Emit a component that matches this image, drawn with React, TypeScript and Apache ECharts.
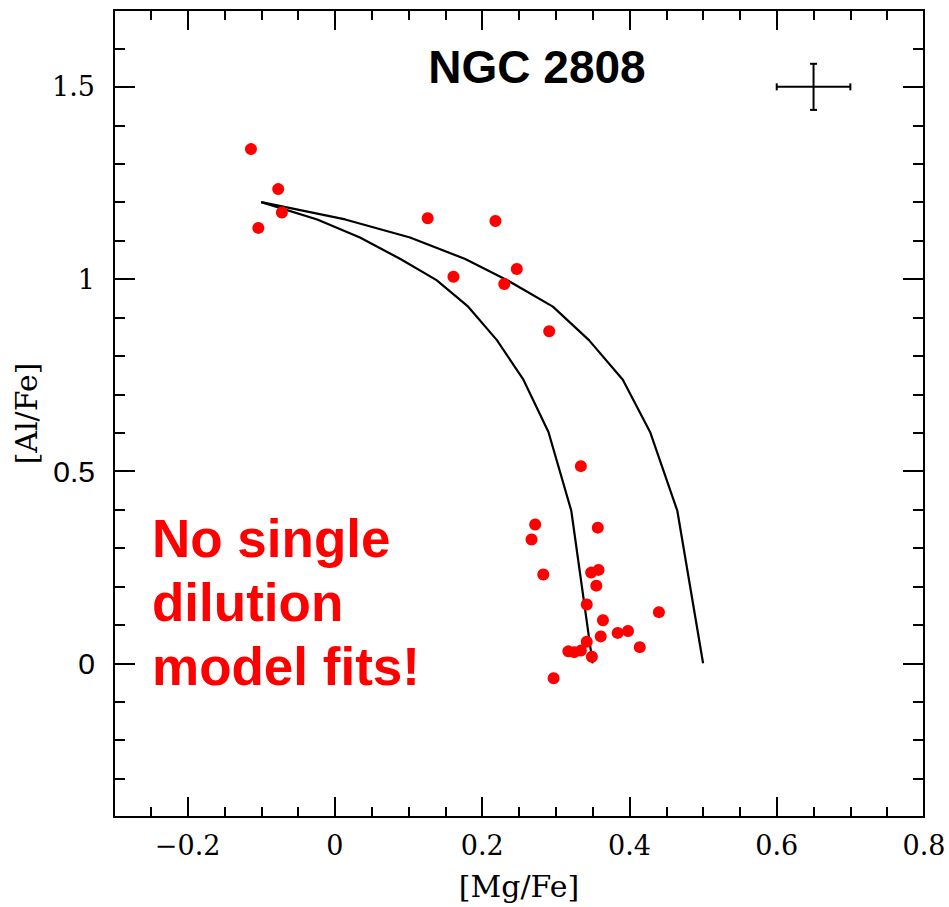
import React, { useEffect, useRef } from 'react';
import * as echarts from 'echarts';

// Axis ticks
const xMajorTicks = [-0.2, 0, 0.2, 0.4, 0.6, 0.8];
const yMajorTicks = [0, 0.5, 1, 1.5];
const ySansLabels = [0, 0.5];

// Dilution models ([Al/Fe] shared, two [Mg/Fe] tracks)
const modelAlFe = [1.2, 1.155, 1.108, 1.052, 0.997, 0.928, 0.841, 0.738, 0.602, 0.397, 0.0];
const modelMgFeInner = [-0.1, -0.024, 0.034, 0.089, 0.138, 0.181, 0.22, 0.256, 0.29, 0.321, 0.35];
const modelMgFeOuter = [-0.1, 0.014, 0.102, 0.177, 0.234, 0.296, 0.345, 0.391, 0.428, 0.465, 0.5];

// Stars in NGC 2808
const starMgFe = [
  -0.114, -0.077, -0.072, -0.104, 0.126, 0.218, 0.161, 0.247, 0.23, 0.291,
  0.334, 0.272, 0.267, 0.357, 0.283, 0.348, 0.358, 0.355, 0.342, 0.364,
  0.44, 0.361, 0.384, 0.398, 0.414, 0.342, 0.334, 0.325, 0.317, 0.349, 0.297,
];
const starAlFe = [
  1.338, 1.234, 1.173, 1.133, 1.158, 1.151, 1.006, 1.026, 0.987, 0.864,
  0.513, 0.361, 0.322, 0.353, 0.231, 0.236, 0.243, 0.202, 0.153, 0.112,
  0.133, 0.07, 0.079, 0.084, 0.042, 0.056, 0.033, 0.029, 0.031, 0.017, -0.039,
];

// Typical error bar: [x, y, xErr, yErr]
const errorBar = [0.65, 1.5, 0.05, 0.06];

const titleText = 'NGC 2808';
const noteLines = ['No single', 'dilution', 'model fits!'];

const SERIF = '"DejaVu Serif", serif';
const SANS = '"Liberation Sans", Arial, sans-serif';

function fmt(v: number): string {
  if (Math.abs(v) < 1e-9) return '0';
  const s = String(+v.toFixed(2));
  return s.replace('-', '\u2212');
}

export default function App() {
  const ref = useRef<HTMLDivElement>(null);
  useEffect(() => {
    if (!ref.current) return;
    const chart = echarts.init(ref.current, undefined, { renderer: 'svg' });
    const gridRect = { left: 114, top: 10, width: 810, height: 807 };
    const lineStyle = { color: '#000', width: 2 };
    const xMin = -0.3, xMax = 0.8, yMin = -0.4, yMax = 1.7;

    const minorX = (pos: string) => ({
      type: 'value', gridIndex: 0, position: pos, min: xMin, max: xMax, interval: 0.05,
      axisLine: { show: true, onZero: false, lineStyle },
      axisTick: { show: true, inside: true, length: 10, lineStyle },
      axisLabel: { show: false }, splitLine: { show: false },
    });
    const minorY = (pos: string) => ({
      type: 'value', gridIndex: 0, position: pos, min: yMin, max: yMax, interval: 0.1,
      axisLine: { show: true, onZero: false, lineStyle },
      axisTick: { show: true, inside: true, length: 11, lineStyle },
      axisLabel: { show: false }, splitLine: { show: false },
    });

    const option: any = {
      animation: false,
      grid: [
        { ...gridRect, containLabel: false },
        { ...gridRect, containLabel: false },
      ],
      xAxis: [
        minorX('bottom'),
        minorX('top'),
        {
          type: 'value', gridIndex: 1, position: 'bottom', min: xMin, max: xMax,
          axisLine: { show: false, onZero: false },
          axisTick: { show: true, inside: true, length: 20, customValues: xMajorTicks, lineStyle },
          axisLabel: {
            show: true, customValues: xMajorTicks, formatter: (v: number) => fmt(v),
            margin: 15, fontFamily: SERIF, fontSize: 27, color: '#000',
          },
          splitLine: { show: false },
          name: '[Mg/Fe]', nameLocation: 'middle', nameGap: 54,
          nameTextStyle: { fontFamily: SERIF, fontSize: 30, color: '#000' },
        },
        {
          type: 'value', gridIndex: 1, position: 'top', min: xMin, max: xMax,
          axisLine: { show: false, onZero: false },
          axisTick: { show: true, inside: true, length: 20, customValues: xMajorTicks, lineStyle },
          axisLabel: { show: false }, splitLine: { show: false },
        },
      ],
      yAxis: [
        minorY('left'),
        minorY('right'),
        {
          type: 'value', gridIndex: 1, position: 'left', min: yMin, max: yMax,
          axisLine: { show: false, onZero: false },
          axisTick: { show: true, inside: true, length: 21, customValues: yMajorTicks, lineStyle },
          axisLabel: {
            show: true, customValues: yMajorTicks, margin: 19, color: '#000',
            formatter: (v: number) => {
              const s = fmt(v);
              return ySansLabels.some((t) => Math.abs(t - v) < 1e-9) ? `{s|${s}}` : `{r|${s}}`;
            },
            rich: {
              s: { fontFamily: SANS, fontSize: 30, color: '#000' },
              r: { fontFamily: SERIF, fontSize: 27, color: '#000' },
            },
          },
          splitLine: { show: false },
          name: '[Al/Fe]', nameLocation: 'middle', nameGap: 70, nameRotate: 90,
          nameTextStyle: { fontFamily: SERIF, fontSize: 30, color: '#000' },
        },
        {
          type: 'value', gridIndex: 1, position: 'right', min: yMin, max: yMax,
          axisLine: { show: false, onZero: false },
          axisTick: { show: true, inside: true, length: 21, customValues: yMajorTicks, lineStyle },
          axisLabel: { show: false }, splitLine: { show: false },
        },
      ],
      series: [
        {
          type: 'line', xAxisIndex: 2, yAxisIndex: 2, showSymbol: false, symbol: 'none',
          data: modelMgFeInner.map((x, i) => [x, modelAlFe[i]]),
          lineStyle: { color: '#000', width: 2.2 }, z: 3,
        },
        {
          type: 'line', xAxisIndex: 2, yAxisIndex: 2, showSymbol: false, symbol: 'none',
          data: modelMgFeOuter.map((x, i) => [x, modelAlFe[i]]),
          lineStyle: { color: '#000', width: 2.2 }, z: 3,
        },
        {
          type: 'scatter', xAxisIndex: 2, yAxisIndex: 2, symbol: 'circle', symbolSize: 12,
          data: starMgFe.map((x, i) => [x, starAlFe[i]]),
          itemStyle: { color: '#ff0000', opacity: 1 }, z: 4,
        },
        {
          type: 'custom', xAxisIndex: 2, yAxisIndex: 2, z: 5,
          data: [errorBar],
          encode: { x: 0, y: 1 },
          renderItem: (params: any, api: any) => {
            const x = api.value(0), y = api.value(1), ex = api.value(2), ey = api.value(3);
            const l = api.coord([x - ex, y]);
            const r = api.coord([x + ex, y]);
            const t = api.coord([x, y + ey]);
            const b = api.coord([x, y - ey]);
            const cap = 3.5;
            const st = { stroke: '#000', lineWidth: 2 };
            return {
              type: 'group',
              children: [
                { type: 'line', shape: { x1: l[0], y1: l[1], x2: r[0], y2: r[1] }, style: st },
                { type: 'line', shape: { x1: t[0], y1: t[1], x2: b[0], y2: b[1] }, style: st },
                { type: 'line', shape: { x1: l[0], y1: l[1] - cap, x2: l[0], y2: l[1] + cap }, style: st },
                { type: 'line', shape: { x1: r[0], y1: r[1] - cap, x2: r[0], y2: r[1] + cap }, style: st },
                { type: 'line', shape: { x1: t[0] - cap, y1: t[1], x2: t[0] + cap, y2: t[1] }, style: st },
                { type: 'line', shape: { x1: b[0] - cap, y1: b[1], x2: b[0] + cap, y2: b[1] }, style: st },
              ],
            };
          },
        },
      ],
      graphic: [
        {
          type: 'text', x: 537, y: 67, z: 10,
          style: {
            text: titleText, fontFamily: SANS, fontWeight: 'bold', fontSize: 46,
            fill: '#000', align: 'center', verticalAlign: 'middle',
          },
        },
        ...noteLines.map((t, i) => ({
          type: 'text', x: 152, y: 538 + i * 64, z: 10,
          style: {
            text: t, fontFamily: SANS, fontWeight: 'bold', fontSize: 53,
            fill: '#ff0000', align: 'left', verticalAlign: 'middle',
          },
        })),
      ],
    };
    chart.setOption(option);
    return () => chart.dispose();
  }, []);
  return (
    <div
      ref={ref}
      style={{ position: 'absolute', left: 0, top: 0, width: 949, height: 907, background: '#fff' }}
    />
  );
}
